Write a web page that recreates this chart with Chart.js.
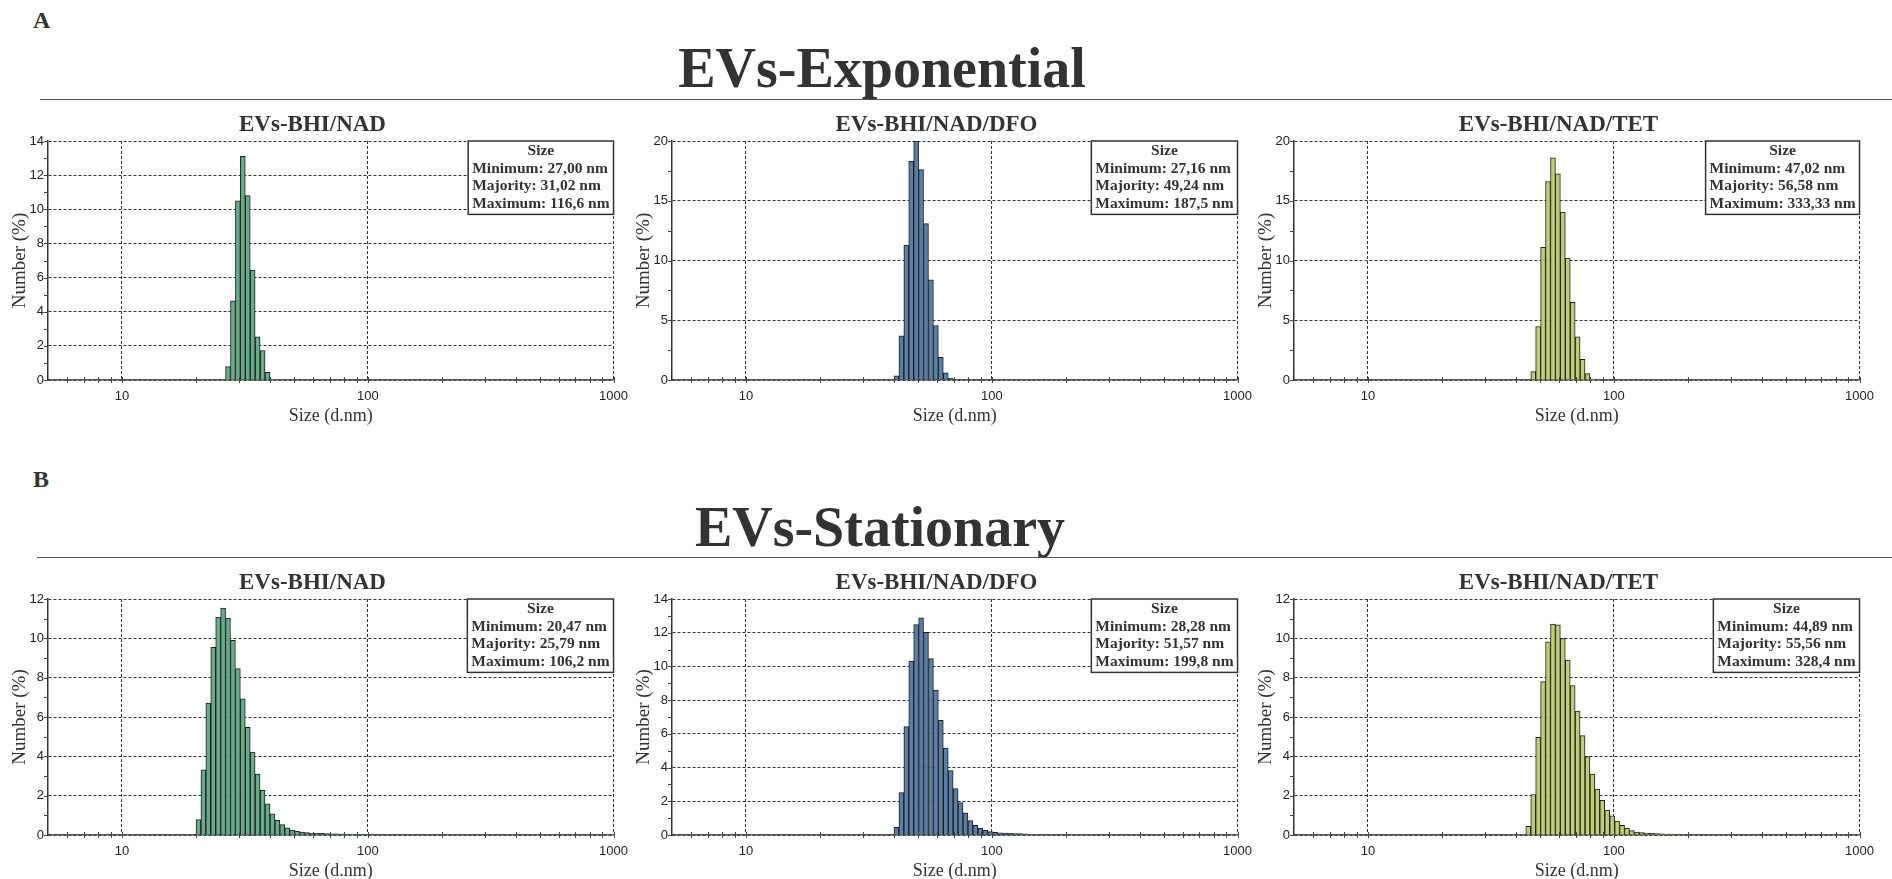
<!DOCTYPE html>
<html><head><meta charset="utf-8">
<script src="https://cdn.jsdelivr.net/npm/chart.js@4"></script>
<style>
html,body{margin:0;padding:0;background:#fff;width:1892px;height:879px;overflow:hidden;}
.lbl{position:absolute;font-family:'Liberation Serif','Times New Roman',serif;font-weight:bold;color:#333;line-height:1;white-space:nowrap;}
.big{font-size:56px;transform:translateX(-50%);}
.rule{position:absolute;height:0;border-top:1.5px solid #555;}
.panel{position:absolute;}
</style></head><body>
<div class="lbl" style="left:33px;top:8px;font-size:24px;">A</div>
<div class="lbl big" style="left:882px;top:40px;">EVs-Exponential</div>
<div class="rule" style="left:40px;top:99px;width:1852px;"></div>
<div class="lbl" style="left:33px;top:467px;font-size:24px;">B</div>
<div class="lbl big" style="left:880px;top:499px;">EVs-Stationary</div>
<div class="rule" style="left:37px;top:557px;width:1855px;"></div>
<script>
// ---------- data ----------
const xTickValues = [10, 100, 1000];
const xMinorTicks = [6,7,8,9,20,30,40,50,60,70,80,90,200,300,400,500,600,700,800,900];
const panelTitles = ['EVs-BHI/NAD', 'EVs-BHI/NAD/DFO', 'EVs-BHI/NAD/TET'];

// A: Exponential
const sizesA1 = [27.00, 28.28, 29.62, 31.02, 32.49, 34.02, 35.63, 37.33, 39.09, 40.94];
const valuesA1 = [0.78, 4.64, 10.5, 13.1, 10.8, 6.44, 2.53, 1.72, 0.45, 0.06];
const infoA1 = ['Size', 'Minimum: 27,00 nm', 'Majority: 31,02 nm', 'Maximum: 116,6 nm'];

const sizesA2 = [40.94, 42.88, 44.90, 47.02, 49.24, 51.57, 54.01, 56.57, 59.25, 62.05, 64.99, 68.06];
const valuesA2 = [0.34, 3.69, 11.3, 18.3, 20.0, 17.6, 13.1, 8.39, 4.56, 1.90, 0.59, 0.14];
const infoA2 = ['Size', 'Minimum: 27,16 nm', 'Majority: 49,24 nm', 'Maximum: 187,5 nm'];

const sizesA3 = [47.02, 49.24, 51.57, 54.01, 56.58, 59.25, 62.05, 64.99, 68.06, 71.28, 74.65, 78.18, 81.88];
const valuesA3 = [0.70, 4.48, 11.1, 16.6, 18.6, 17.25, 14.06, 10.2, 6.5, 3.61, 1.74, 0.53, 0.08];
const infoA3 = ['Size', 'Minimum: 47,02 nm', 'Majority: 56,58 nm', 'Maximum: 333,33 nm'];

// B: Stationary
const sizesB1 = [20.47, 21.44, 22.45, 23.51, 24.62, 25.79, 27.00, 28.28, 29.62, 31.02, 32.49, 34.02, 35.63, 37.33, 39.09, 40.94, 42.88, 44.90, 47.02, 49.24, 51.57, 54.01, 56.57, 59.25, 62.05, 64.99, 68.06, 71.28, 74.65, 78.18, 81.88, 85.76, 89.81, 94.07, 98.52, 103.2];
const valuesB1 = [0.78, 3.32, 6.71, 9.54, 11.08, 11.54, 11.03, 9.9, 8.46, 6.93, 5.47, 4.22, 3.10, 2.27, 1.59, 1.08, 0.75, 0.53, 0.36, 0.25, 0.19, 0.15, 0.12, 0.10, 0.09, 0.08, 0.07, 0.06, 0.06, 0.05, 0.05, 0.04, 0.04, 0.04, 0.03, 0.03];
const infoB1 = ['Size', 'Minimum: 20,47 nm', 'Majority: 25,79 nm', 'Maximum: 106,2 nm'];

const sizesB2 = [40.94, 42.88, 44.90, 47.02, 49.24, 51.57, 54.01, 56.57, 59.25, 62.05, 64.99, 68.06, 71.28, 74.65, 78.18, 81.88, 85.76, 89.81, 94.07, 98.52, 103.2, 108.1, 113.2, 118.5, 124.1, 130.0, 136.2];
const valuesB2 = [0.45, 2.51, 6.43, 10.32, 12.48, 12.89, 12.02, 10.46, 8.60, 6.80, 5.16, 3.82, 2.75, 1.92, 1.31, 0.85, 0.57, 0.40, 0.28, 0.20, 0.16, 0.13, 0.11, 0.10, 0.09, 0.08, 0.07];
const infoB2 = ['Size', 'Minimum: 28,28 nm', 'Majority: 51,57 nm', 'Maximum: 199,8 nm'];

const sizesB3 = [44.90, 47.02, 49.24, 51.57, 54.01, 56.57, 59.25, 62.05, 64.99, 68.06, 71.28, 74.65, 78.18, 81.88, 85.76, 89.81, 94.07, 98.52, 103.2, 108.1, 113.2, 118.5, 124.1, 130.0, 136.2, 142.6, 149.4, 156.4, 163.8, 171.5];
const valuesB3 = [0.44, 2.06, 4.97, 7.80, 9.82, 10.73, 10.69, 9.99, 8.89, 7.60, 6.30, 5.05, 3.99, 3.10, 2.34, 1.76, 1.27, 0.98, 0.71, 0.49, 0.34, 0.22, 0.15, 0.12, 0.10, 0.08, 0.07, 0.06, 0.05, 0.05];
const infoB3 = ['Size', 'Minimum: 44,89 nm', 'Majority: 55,56 nm', 'Maximum: 328,4 nm'];

const yMaxA = [14, 20, 20];
const yStepA = [2, 5, 5];
const yMaxB = [12, 14, 12];
const yStepB = [2, 2, 2];

// ---------- styling / layout ----------
const SERIF = "'Liberation Serif', 'Times New Roman', serif";
const SANS = "'Liberation Sans', Arial, sans-serif";
const COLORS = ['#67ab8c', '#5a7ea7', '#bfcd74'];
const YW = 40, XH = 47, TITLE_H = 29, PADR = 20, PW = 569;
const colL = [48, 672, 1294];
const rowT = [141, 599], rowPH = [239, 236];

const ticksPlugin = {
  id: 'minorTicks',
  afterDatasetsDraw(chart, args, opts) {
    const {ctx, scales: {x, y}, chartArea: ca} = chart;
    ctx.save();
    ctx.strokeStyle = '#444'; ctx.lineWidth = 1;
    ctx.beginPath();
    xMinorTicks.concat(xTickValues).forEach(v => {
      const px = Math.round(x.getPixelForValue(v)) + 0.5;
      ctx.moveTo(px, ca.bottom - 3); ctx.lineTo(px, ca.bottom + 3);
    });
    for (let v = 0; v <= y.max + 1e-9; v += opts.step) {
      const py = Math.round(y.getPixelForValue(v)) + 0.5;
      ctx.moveTo(ca.left - 4, py); ctx.lineTo(ca.left, py);
    }
    ctx.stroke();
    ctx.restore();
  }
};

const infoPlugin = {
  id: 'info',
  afterDatasetsDraw(chart, args, opts) {
    const {ctx, chartArea: {right, top}} = chart;
    const lines = opts.lines;
    ctx.save();
    ctx.font = 'bold 15.5px ' + SERIF;
    const w = Math.max(...lines.map(l => ctx.measureText(l).width)) + 8;
    const lh = 17.6, h = lines.length * lh + 3;
    const x = right - w, y = top;
    ctx.fillStyle = '#fff'; ctx.fillRect(x, y, w, h);
    ctx.strokeStyle = '#333'; ctx.lineWidth = 1.5; ctx.strokeRect(x, y, w, h);
    ctx.fillStyle = '#333'; ctx.textBaseline = 'middle';
    lines.forEach((l, i) => {
      const cy = y + 10 + i * lh;
      if (i === 0) { ctx.textAlign = 'center'; ctx.fillText(l, x + w / 2, cy); }
      else { ctx.textAlign = 'left'; ctx.fillText(l, x + 4, cy); }
    });
    ctx.restore();
  }
};

function makeChart(p) {
  const div = document.createElement('div');
  div.className = 'panel';
  div.style.left = (p.L - YW) + 'px';
  div.style.top = (p.T - TITLE_H) + 'px';
  div.style.width = (YW + PW + PADR) + 'px';
  div.style.height = (TITLE_H + p.PH + XH) + 'px';
  const cv = document.createElement('canvas');
  div.appendChild(cv);
  document.body.appendChild(div);
  new Chart(cv, {
    type: 'bar',
    data: {
      datasets: [{
        data: p.sizes.map((s, i) => ({x: s, y: p.values[i]})),
        backgroundColor: p.color,
        borderColor: '#1e1e1e',
        borderWidth: 1,
        barPercentage: 1,
        categoryPercentage: 1,
        borderSkipped: 'start'
      }]
    },
    options: {
      responsive: true, maintainAspectRatio: false, animation: false,
      layout: {padding: {left: 0, right: PADR, top: 0, bottom: 0}},
      plugins: {
        legend: {display: false},
        tooltip: {enabled: false},
        title: {display: true, text: p.title, color: '#333',
          font: {family: SERIF, size: 23, weight: 'bold', lineHeight: '26px'},
          padding: {top: 0, bottom: 3}},
        info: {lines: p.info},
        minorTicks: {step: p.yStep / 2}
      },
      scales: {
        x: {
          type: 'logarithmic', min: 5, max: 1000, offset: false,
          grid: {offset: false, color: '#333', lineWidth: 1, drawTicks: false},
          border: {display: true, color: '#555', width: 1.5, dash: [3, 2]},
          afterBuildTicks: s => { s.ticks = xTickValues.map(v => ({value: v})); },
          afterFit: s => { s.height = XH; },
          ticks: {callback: v => String(v), font: {family: SANS, size: 13}, color: '#222',
            padding: 9, maxRotation: 0, autoSkip: false},
          title: {display: true, text: 'Size (d.nm)', color: '#333',
            font: {family: SERIF, size: 18, lineHeight: '22px'}, padding: {top: 0, bottom: 0}}
        },
        y: {
          type: 'linear', min: 0, max: p.yMax,
          ticks: {stepSize: p.yStep, font: {family: SANS, size: 13}, color: '#222', padding: 4},
          grid: {color: '#333', lineWidth: 1, drawTicks: false},
          border: {display: true, color: '#333', width: 1.5, dash: [3, 2]},
          afterFit: s => { s.width = YW; },
          title: {display: true, text: 'Number (%)', color: '#333',
            font: {family: SERIF, size: 19, lineHeight: '22px'}, padding: {top: 1, bottom: 0}}
        }
      }
    },
    plugins: [ticksPlugin, infoPlugin]
  });
}

const sizesA = [sizesA1, sizesA2, sizesA3], valuesA = [valuesA1, valuesA2, valuesA3], infoA = [infoA1, infoA2, infoA3];
const sizesB = [sizesB1, sizesB2, sizesB3], valuesB = [valuesB1, valuesB2, valuesB3], infoB = [infoB1, infoB2, infoB3];
for (let c = 0; c < 3; c++) {
  makeChart({L: colL[c], T: rowT[0], PH: rowPH[0], title: panelTitles[c], sizes: sizesA[c], values: valuesA[c],
    info: infoA[c], yMax: yMaxA[c], yStep: yStepA[c], color: COLORS[c]});
  makeChart({L: colL[c], T: rowT[1], PH: rowPH[1], title: panelTitles[c], sizes: sizesB[c], values: valuesB[c],
    info: infoB[c], yMax: yMaxB[c], yStep: yStepB[c], color: COLORS[c]});
}
</script>
</body></html>
